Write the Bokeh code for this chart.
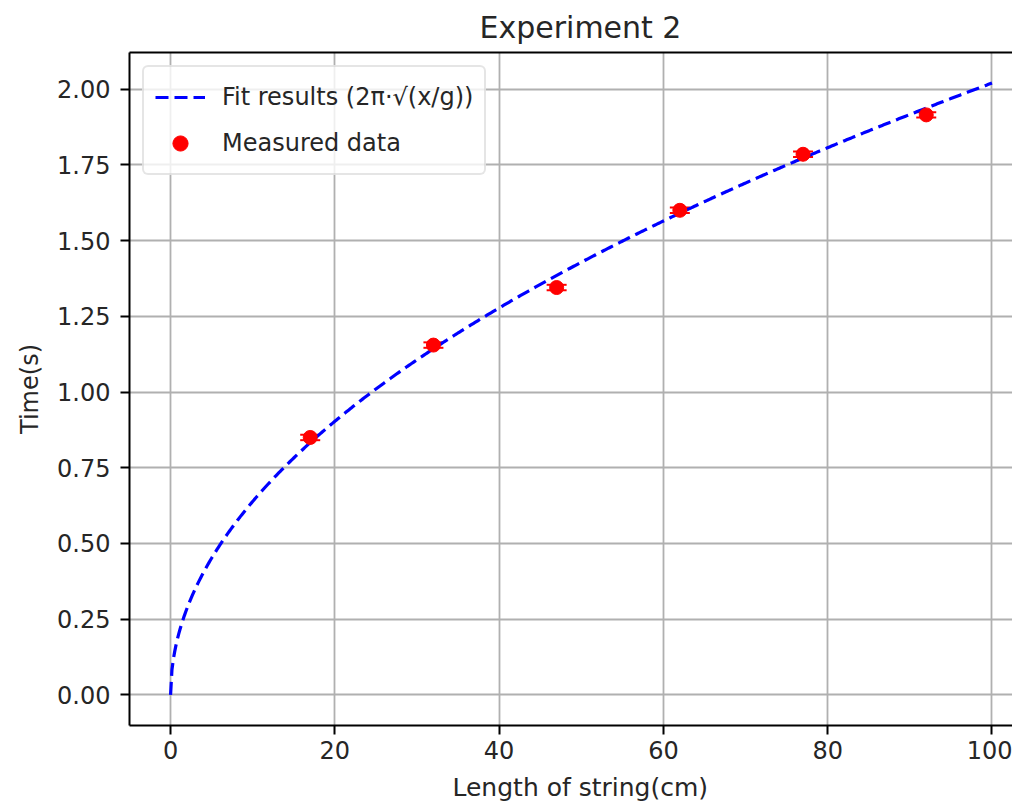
import numpy as np
from bokeh.plotting import figure
from bokeh.models import (ColumnDataSource, Range1d, FixedTicker, NumeralTickFormatter,
                          LinearAxis, Whisker, TeeHead, Legend, LegendItem, Title)
from bokeh.embed import file_html
from bokeh.resources import INLINE

# ---- data ----
length_cm = [17, 32, 47, 62, 77, 92]
time_s = [0.85, 1.155, 1.345, 1.60, 1.785, 1.915]
time_err = [0.009, 0.009, 0.009, 0.009, 0.009, 0.009]
g_fit = 967.5          # fitted g (cm/s^2) for T = 2*pi*sqrt(x/g)
fit_x_max = 100
x_ticks = [0, 20, 40, 60, 80, 100]
y_ticks = [0.0, 0.25, 0.5, 0.75, 1.0, 1.25, 1.5, 1.75, 2.0]

title_text = "Experiment 2"
x_label = "Length of string(cm)"
y_label = "Time(s)"
fit_label = "Fit results (2π·√(x/g))"
data_label = "Measured data"

FONT = "DejaVu Sans"
TXT = "#262626"

fit_xs = np.linspace(0, fit_x_max, 600)
fit_ys = 2 * np.pi * np.sqrt(fit_xs / g_fit)

src = ColumnDataSource(dict(
    x=length_cm, y=time_s,
    lower=[t - e for t, e in zip(time_s, time_err)],
    upper=[t + e for t, e in zip(time_s, time_err)],
))

p = figure(width=1012, height=802, output_backend="svg", toolbar_location=None,
           x_range=Range1d(-5, 102.5), y_range=Range1d(-0.101, 2.121),
           min_border_left=129, min_border_right=0, min_border_top=52, min_border_bottom=77)
p.outline_line_color = None
p.background_fill_color = "white"
p.border_fill_color = "white"

# axes
for ax in (p.xaxis[0], p.yaxis[0]):
    ax.axis_line_color = "black"
    ax.axis_line_width = 2
    ax.major_tick_line_color = "black"
    ax.major_tick_line_width = 2
    ax.major_tick_out = 9
    ax.major_tick_in = 0
    ax.minor_tick_line_color = None
    ax.major_label_text_font = FONT
    ax.major_label_text_font_size = "24px"
    ax.major_label_text_color = TXT

p.xaxis[0].ticker = FixedTicker(ticks=x_ticks)
p.xaxis[0].major_label_standoff = 6
p.yaxis[0].ticker = FixedTicker(ticks=y_ticks)
p.yaxis[0].formatter = NumeralTickFormatter(format="0.00")
p.yaxis[0].major_label_standoff = 10
p.yaxis[0].axis_label = y_label
p.yaxis[0].axis_label_text_font = FONT
p.yaxis[0].axis_label_text_font_size = "24px"
p.yaxis[0].axis_label_text_font_style = "normal"
p.yaxis[0].axis_label_text_color = TXT
p.yaxis[0].axis_label_standoff = 10

# top spine
top = LinearAxis(ticker=FixedTicker(ticks=[]), axis_line_color="black", axis_line_width=2,
                 major_tick_out=0, major_tick_in=0, minor_tick_out=0, minor_tick_in=0,
                 major_label_text_color=None)
p.add_layout(top, "above")

# grid
for gr in (p.xgrid[0], p.ygrid[0]):
    gr.grid_line_color = "#b0b0b0"
    gr.grid_line_width = 1.8

# fit curve
fit_r = p.line(fit_xs, fit_ys, line_color="blue", line_width=3.2, line_dash="13 6")

# error bars
wh = Whisker(source=src, base="x", upper="upper", lower="lower", dimension="height",
             line_color="red", line_width=2,
             upper_head=TeeHead(size=20, line_color="red", line_width=2),
             lower_head=TeeHead(size=20, line_color="red", line_width=2))
p.add_layout(wh)

pts_r = p.scatter("x", "y", source=src, size=14, marker="circle",
                  fill_color="red", line_color="red")

# legend
legend = Legend(items=[LegendItem(label=fit_label, renderers=[fit_r]),
                       LegendItem(label=data_label, renderers=[pts_r])],
                location="top_left", margin=13, padding=11, spacing=8,
                label_height=38, glyph_height=38, glyph_width=50, label_standoff=17,
                label_text_font=FONT, label_text_font_size="24px", label_text_color=TXT,
                border_line_color="#cccccc", border_line_width=2,
                background_fill_color="white", background_fill_alpha=0.8)
if "border_radius" in Legend.properties():
    legend.border_radius = 6
p.add_layout(legend)

# title and x label, centred on the full (partly cropped) axes span
t_top = Title(text=title_text, align="left", offset=350, text_font=FONT,
              text_font_size="30px", text_font_style="normal", text_color=TXT, standoff=10)
t_bot = Title(text=x_label, align="left", offset=323, text_font=FONT,
              text_font_size="25px", text_font_style="normal", text_color=TXT, standoff=4)
try:
    t_top.padding = dict(left=0, right=0, top=0, bottom=6)
    t_top.standoff = 4
    t_bot.padding = dict(left=0, right=0, top=9, bottom=0)
    t_bot.standoff = 0
except Exception:
    pass
p.add_layout(t_top, "above")
p.add_layout(t_bot, "below")

open("out.html", "w").write(file_html(p, INLINE))
